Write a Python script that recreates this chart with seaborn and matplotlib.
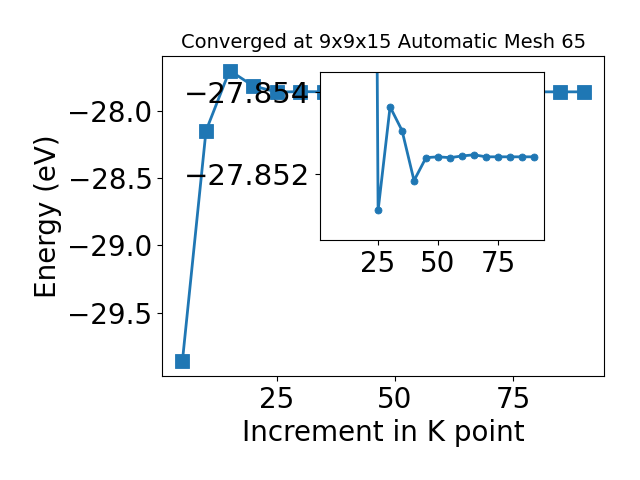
import matplotlib
matplotlib.use("Agg")
import matplotlib.pyplot as plt
from matplotlib.ticker import MultipleLocator
import seaborn as sns
import pandas as pd

kpoints = [5, 10, 15, 20, 25, 30, 35, 40, 45, 50, 55, 60, 65, 70, 75, 80, 85, 90]
energy = [-29.865, -28.145, -27.695, -27.81,
          -27.85538, -27.85285, -27.85343, -27.85465, -27.85409, -27.85407,
          -27.85409, -27.85405, -27.85402, -27.85407, -27.85407, -27.85407,
          -27.85407, -27.85407]
inset_start = 20
inset_ylim = (-27.8561, -27.8520)
inset_tick_pos = [-27.8525, -27.8545]
inset_tick_labels = ["\u221227.854", "\u221227.852"]
xtick_step = 25

title = "Converged at 9x9x15 Automatic Mesh 65"
xlabel = "Increment in K point"
ylabel = "Energy (eV)"
color = "#1f77b4"

df = pd.DataFrame({"k": kpoints, "E": energy})
df_in = df[df["k"] >= inset_start]

fig = plt.figure(figsize=(6.4, 4.8), dpi=100)
ax = fig.add_axes([0.2536, 0.2167, 0.690, 0.6667])
sns.lineplot(data=df, x="k", y="E", marker="s", markersize=10,
             markeredgecolor=color, markeredgewidth=0.6,
             linewidth=2, color=color, ax=ax)
ax.xaxis.set_major_locator(MultipleLocator(xtick_step))
ax.set_title(title, fontsize=14)
ax.set_xlabel(xlabel, fontsize=20)
ax.set_ylabel(ylabel, fontsize=20)
ax.tick_params(labelsize=20)

ax_in = fig.add_axes([0.5, 0.5, 0.35, 0.35])
sns.lineplot(data=df_in, x="k", y="E", marker="o", markersize=5,
             markeredgecolor=color, markeredgewidth=0.6,
             linewidth=2, color=color, ax=ax_in)
ax_in.set_xlim(ax.get_xlim())
ax_in.xaxis.set_major_locator(MultipleLocator(xtick_step))
ax_in.set_ylim(*inset_ylim)
ax_in.set_yticks(inset_tick_pos)
ax_in.set_yticklabels(inset_tick_labels)
ax_in.set_xlabel("")
ax_in.set_ylabel("")
ax_in.tick_params(axis="x", labelsize=20)
ax_in.tick_params(axis="y", labelsize=21)

fig.savefig("out.png", dpi=100)
